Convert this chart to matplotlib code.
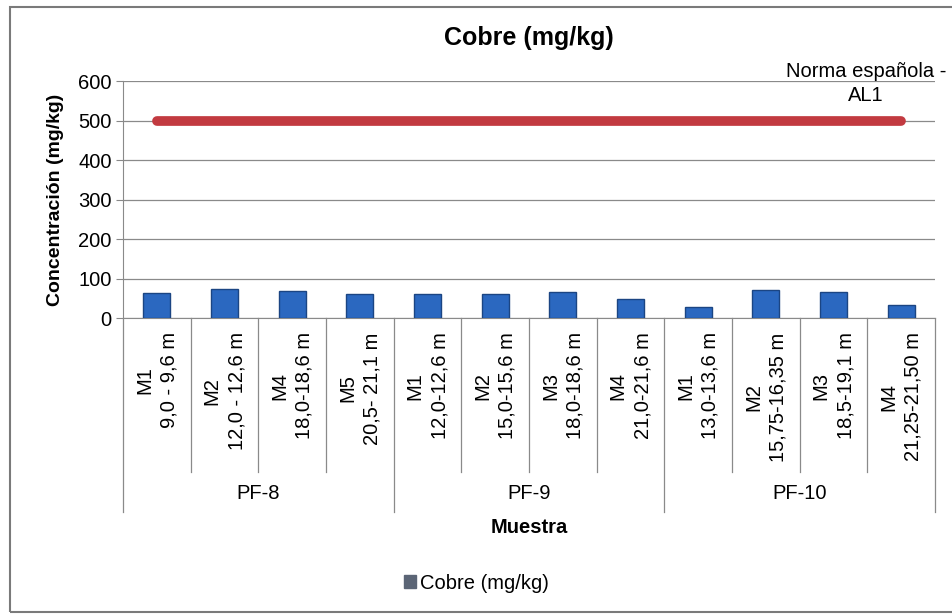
import matplotlib.pyplot as plt
from matplotlib.patches import Patch, Rectangle

plt.rcParams['font.family'] = ['Liberation Sans', 'DejaVu Sans']

sample_labels = [
    "M1\n9,0 - 9,6 m", "M2\n12,0 - 12,6 m", "M4\n18,0-18,6 m", "M5\n20,5- 21,1 m",
    "M1\n12,0-12,6 m", "M2\n15,0-15,6 m", "M3\n18,0-18,6 m", "M4\n21,0-21,6 m",
    "M1\n13,0-13,6 m", "M2\n15,75-16,35 m", "M3\n18,5-19,1 m", "M4\n21,25-21,50 m",
]
groups = ["PF-8", "PF-9", "PF-10"]
group_sizes = [4, 4, 4]
cobre = [64, 74, 69, 61, 62, 61, 66, 48, 29, 70, 65, 34]
norma = [500] * 12

fig = plt.figure(figsize=(9.53, 6.14), dpi=100)
ax = fig.add_axes([0.129, 0.482, 0.852, 0.386])

x = list(range(len(cobre)))
ax.bar(x, cobre, width=0.4, color="#2b68c0", edgecolor="#1b4583", linewidth=1.0,
       zorder=3, label="Cobre (mg/kg)")
ax.plot(x, norma, color="#c23a40", linewidth=7, solid_capstyle="round", zorder=4)

ax.set_xlim(-0.5, len(cobre) - 0.5)
ax.set_ylim(0, 600)
ax.set_yticks(range(0, 601, 100))
ax.tick_params(axis="y", labelsize=14.5, length=5, color="#888888", pad=3)
ax.set_xticks([])
ax.grid(axis="y", color="#8a8a8a", linewidth=0.9, zorder=0)
for s in ["top", "right"]:
    ax.spines[s].set_visible(False)
ax.spines["left"].set_color("#8a8a8a")
ax.spines["bottom"].set_color("#8a8a8a")

ax.set_title("Cobre (mg/kg)", fontsize=18, fontweight="bold", pad=26)
ax.set_ylabel("Concentración (mg/kg)", fontsize=14, fontweight="bold", labelpad=10)

# multi-level category axis
tr = ax.get_xaxis_transform()
for i, lab in enumerate(sample_labels):
    ax.text(i, -0.06, lab, transform=tr, rotation=90, ha="center", va="top",
            multialignment="center", fontsize=14.5, linespacing=1.35)
bounds = [0]
for g in group_sizes:
    bounds.append(bounds[-1] + g)
for i in range(len(cobre) + 1):
    bottom = -0.82 if i in bounds else -0.65
    ax.plot([i - 0.5, i - 0.5], [0, bottom], transform=tr, color="#8a8a8a",
            linewidth=0.9, clip_on=False)
for k, g in enumerate(groups):
    c = (bounds[k] + bounds[k + 1] - 1) / 2
    ax.text(c, -0.74, g, transform=tr, ha="center", va="center", fontsize=14.5)

ax.text(0.5, -0.885, "Muestra", transform=ax.transAxes, ha="center", va="center",
        fontsize=14.5, fontweight="bold")

ax.text(10.48, 594, "Norma española -\nAL1", ha="center", va="center",
        multialignment="center", fontsize=14.5, linespacing=1.3, clip_on=False)

fig.legend(handles=[Patch(facecolor="#5b6576", edgecolor="#5b6576")],
           labels=["Cobre (mg/kg)"], loc="center", bbox_to_anchor=(0.5, 0.05),
           frameon=False, fontsize=14.5, handlelength=0.6, handleheight=0.6,
           handletextpad=0.2)

fig.patches.append(Rectangle((10 / 953, 2 / 614), 1.0, 605 / 614, transform=fig.transFigure,
                             fill=False, edgecolor="#7a7a7a", linewidth=1.5))

fig.savefig("out.png", dpi=100)
